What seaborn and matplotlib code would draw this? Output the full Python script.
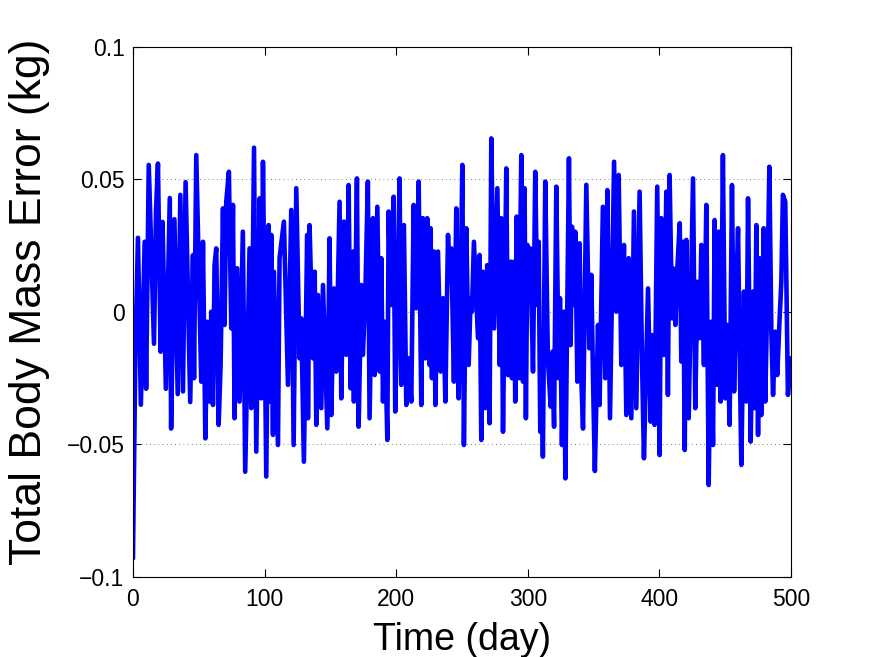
import numpy as np
import pandas as pd
import matplotlib
matplotlib.use("Agg")
import matplotlib.pyplot as plt
import seaborn as sns
from matplotlib.ticker import FixedLocator, FixedFormatter

days = [0, 1.8, 3.8, 6, 8.9, 10, 12, 16, 17.5, 19, 21, 22.5, 25, 28, 29, 31.5, 34, 36, 38, 40, 43.5,
        45.6, 46.4, 48.1, 51.9, 53.2, 55, 56.5, 58.2, 59.5, 60.8, 62, 63.3, 65.1, 66.6, 68.4, 69.6, 70.9,
        72.9, 74.7, 76, 77.2, 79.2, 81, 83.5, 85.3, 88.6, 89.9, 92, 93.7, 96.3, 97.5, 98.8, 101.3, 103.1,
        103.8, 105.1, 106.4, 107.1, 110.2, 111.4, 114.7, 117.8, 120.3, 122.1, 124.1, 126.6, 127.9, 129.9,
        132.4, 133, 134.2, 136.8, 138.1, 139.3, 140.6, 143.1, 144.4, 147.7, 149.4, 150.7, 152.7, 154.5,
        157, 158.3, 160.3, 162.1, 163.9, 165.4, 167.2, 167.9, 170.2, 171.5, 173.5, 174.7, 176.5, 178.5,
        179.8, 182.4, 183.7, 185.7, 187.5, 188.7, 190, 191.3, 193.3, 194.3, 195.8, 198.1, 199.3, 200.9,
        202.6, 203.9, 205.9, 207.7, 209.5, 211.5, 213.3, 215.3, 217.1, 219.1, 220.3, 222.1, 223.6, 225.4,
        226.2, 227.2, 228.8, 229.8, 231.8, 233.8, 235.6, 237.4, 239.4, 240.6, 241.9, 243.9, 245.7, 247.5,
        249, 250.3, 251.5, 253.3, 255.1, 256.6, 257.6, 259.1, 262.2, 263.4, 264.7, 265.9, 267.7, 269.2,
        271, 272.3, 274.4, 276.9, 278.7, 279.9, 281.2, 283.7, 285, 287, 288, 289.5, 290.5, 291.6, 293.1,
        295.1, 296.4, 297.6, 298.6, 299.7, 300.7, 301.9, 304, 305.7, 307.2, 308.3, 309.5, 310.5, 311.5,
        313.3, 315.3, 317.4, 318.7, 320, 321.7, 323.5, 324.5, 326, 327.5, 328.6, 331.3, 332.6, 333.6,
        335.1, 336.1, 337.7, 339.4, 340.7, 342, 344.5, 346.8, 348.3, 349.6, 351, 353.4, 354.6, 357.1,
        358.9, 360.5, 362.5, 365.6, 367.3, 369.1, 371.1, 373.1, 374.9, 376.7, 378.7, 380.7, 382.5, 385,
        386.8, 388.3, 390.1, 391.4, 393.4, 394.6, 396.4, 398.4, 400.2, 401.5, 403.5, 405.3, 406.5, 407.8,
        409.6, 410.4, 412.2, 413.7, 415.5, 416.7, 418, 419.3, 420.5, 422.3, 425.6, 427.3, 428.9, 430.6,
        431.9, 433.9, 435.7, 437.5, 439, 440.8, 442, 444, 445.1, 446.6, 448.3, 450.1, 451.6, 453.4, 455.2,
        456.8, 458.5, 459.8, 461.1, 462.3, 464.3, 466.1, 467.4, 469.4, 471.2, 472.4, 473.7, 475, 476.2,
        477.5, 479.3, 480.5, 482.1, 483.6, 485.1, 486.4, 488.1, 489.6, 491.4, 492.7, 493.9, 495.7, 497.7,
        500]

mass_error = [-0.093, -0.016, 0.028, -0.035, 0.0265, -0.029, 0.0555, -0.012, 0.038, 0.056, -0.015, 0.034,
              -0.029, 0.043, -0.044, 0.035, -0.031, 0.0442, -0.030, 0.049, -0.034,
              0.0215, -0.025, 0.0592, -0.0263, 0.0265, -0.0477, -0.0037, -0.0338, 0.0001, -0.0351, 0.0177,
              0.024, -0.0426, -0.020, 0.0391, -0.0049, 0.0416, 0.0529, -0.0062, 0.0404, -0.0401, 0.0165,
              -0.0338, 0.0303, -0.0603, 0.024, -0.0363, 0.062, -0.0527, 0.0429, -0.0326, 0.0567, -0.0621,
              0.0328, -0.0338, 0.0291, -0.0464, 0.0152, -0.0502, 0.0203, 0.0341, -0.0275, 0.0385, -0.0502,
              0.0467, -0.0175, -0.0024, -0.0565, 0.0291, -0.0401, 0.0328, -0.0175, 0.0152, -0.0426, 0.0064,
              -0.0363, 0.0102, -0.0439, 0.0278, -0.0389, 0.0089, -0.0225, 0.0416, -0.0326, 0.0341, -0.0162,
              0.0479, -0.0288, 0.0228, -0.0338, 0.0504, -0.0433, 0.0102, -0.0162, 0.0052, 0.0492, -0.0401,
              0.0354, -0.0238, 0.0397, -0.0225, 0.0203, -0.0338, -0.0037, -0.0483, 0.0379, 0.0026, 0.0435,
              -0.0376, -0.0011, 0.0504, -0.0275, 0.0328, -0.0351, -0.0175, -0.0338, 0.0404, 0.0014, 0.0492,
              -0.0351, 0.0354, -0.0175, 0.0354, -0.020, 0.0316, -0.025, 0.0228, -0.0351, 0.0228, -0.0225,
              0.0052, -0.0338, 0.0291, 0.0114, 0.024, -0.0263, 0.0391, -0.0326, 0.0077, 0.0555, -0.0502,
              0.0316, -0.020, 0.0052, 0.0001, 0.0265, -0.0099, 0.0215, -0.0483, 0.0152, -0.0363, 0.0177,
              -0.042, 0.0655, -0.0062, 0.0467, -0.020, 0.0354, -0.0452, 0.0542, -0.0238, 0.019, -0.025,
              0.019, -0.0338, 0.036, -0.025, 0.0592, -0.0263, 0.0467, -0.0401, 0.0253, 0.0077, 0.024, -0.0225,
              0.0529, 0.0026, 0.0265, -0.0452, -0.010, -0.0546, 0.0492, -0.0175, -0.0357, -0.015, -0.0433,
              0.0473, -0.025, 0.0052, -0.0502, 0.0001, -0.0628, 0.058, -0.0125, 0.0322, 0.0026, 0.0303,
              -0.0263, 0.0259, -0.025, -0.044, 0.048, -0.0137, 0.014, -0.025, -0.060, -0.0049, -0.0351,
              0.0397, -0.025, 0.046, -0.0401, 0.0567, 0.0001, 0.0517, -0.020, 0.0253, -0.0389, 0.0203,
              -0.0401, 0.0379, -0.0363, 0.0454, -0.0175, -0.0552, -0.0175, 0.0089, -0.0414, -0.0087, -0.0426,
              0.0473, -0.054, 0.0354, -0.0162, 0.0454, -0.0313, 0.0517, -0.0024, 0.0165, -0.0049, 0.0165,
              0.0335, -0.0187, 0.0265, -0.0521, 0.0272, -0.0401, 0.0504, -0.0363, 0.0114, -0.0099, 0.0253,
              -0.020, 0.0404, -0.0653, -0.0037, -0.0502, 0.0347, -0.0275, 0.0303, -0.0338, 0.0592, -0.0326,
              -0.0049, -0.0426, 0.0479, -0.030, 0.0077, 0.0316, -0.0175, -0.0577, 0.0077, -0.0338, 0.0429,
              -0.0489, 0.0077, -0.0363, 0.0328, -0.0464, 0.0203, -0.0389, 0.0316, -0.0338, 0.0077, 0.0548,
              -0.0074, -0.0313, -0.0074, -0.0238, -0.0024, 0.0114, 0.0442, 0.0416, -0.0313, -0.0175]

x_ticks = [0, 100, 200, 300, 400, 500]
x_tick_labels = ["0", "100", "200", "300", "400", "500"]
y_ticks = [-0.1, -0.05, 0, 0.05, 0.1]
y_tick_labels = ["\u22120.1", "\u22120.05", "0", "0.05", "0.1"]

df = pd.DataFrame({"Time (day)": days, "Error": mass_error})

sns.set_style("white")
plt.rcParams["font.family"] = ["Liberation Sans", "DejaVu Sans"]
plt.rcParams["text.color"] = "black"
plt.rcParams["axes.labelcolor"] = "black"

fig = plt.figure(figsize=(8.73, 6.57), dpi=100)
ax = fig.add_axes([0.1523, 0.1218, 0.7537, 0.8067])

sns.lineplot(data=df, x="Time (day)", y="Error", ax=ax, color="#0000ff",
             linewidth=3.3, estimator=None, sort=False)

ax.set_xlim(0, 500)
ax.set_ylim(-0.1, 0.1)
ax.xaxis.set_major_locator(FixedLocator(x_ticks))
ax.xaxis.set_major_formatter(FixedFormatter(x_tick_labels))
ax.yaxis.set_major_locator(FixedLocator(y_ticks))
ax.yaxis.set_major_formatter(FixedFormatter(y_tick_labels))

for yv in y_ticks[1:-1]:
    ax.axhline(yv, color="#555555", linestyle=(0, (1, 4)), linewidth=0.6, zorder=0)

ax.tick_params(direction="in", length=6, width=0.8, labelsize=16.5, colors="black",
               labelcolor="black", top=True, right=True, bottom=True, left=True)
ax.tick_params(axis="x", pad=8)
ax.tick_params(axis="y", pad=6)
for s in ax.spines.values():
    s.set_visible(True)
    s.set_color("black")
    s.set_linewidth(0.8)

ax.set_xlabel("Time (day)", fontsize=27, labelpad=8, color="black")
ax.set_ylabel("Total Body Mass Error (kg)", fontsize=32, labelpad=12, color="black")
ax.yaxis.label.set_y(0.52)

fig.savefig("out.png", dpi=100, facecolor="white")
